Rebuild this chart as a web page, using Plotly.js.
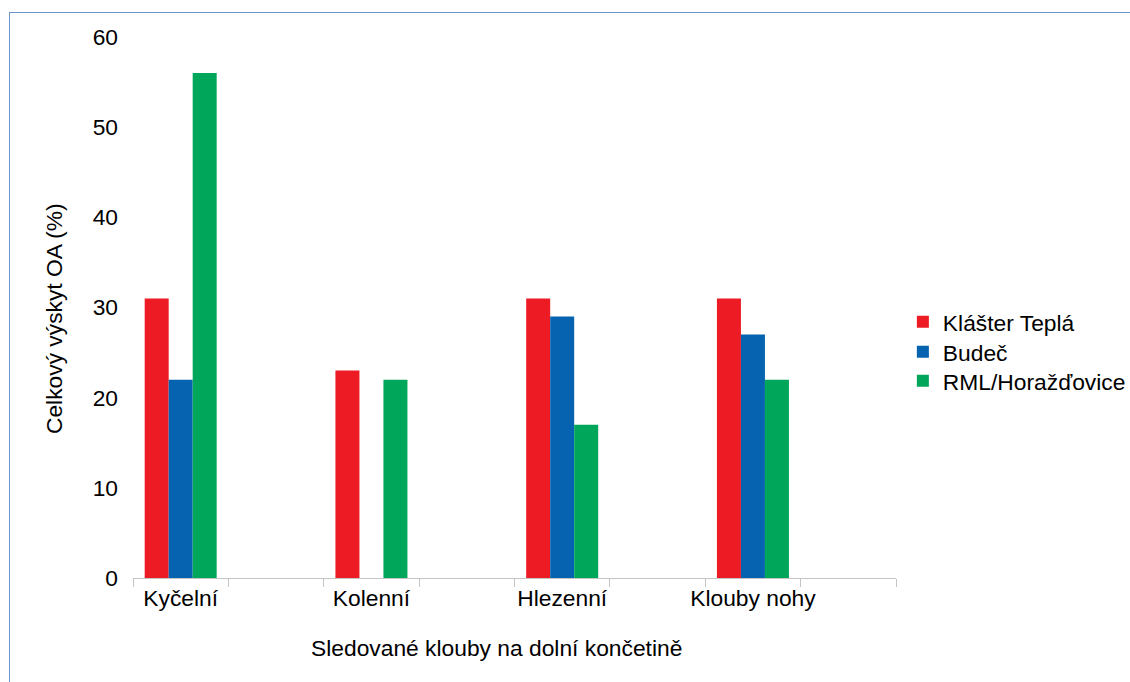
<!DOCTYPE html>
<html>
<head>
<meta charset="utf-8">
<script src="https://cdn.plot.ly/plotly-3.0.1.min.js"></script>
<style>
  html, body { margin: 0; padding: 0; background: #ffffff; }
  #wrap { position: relative; width: 1130px; height: 682px; }
  #chart { position: absolute; left: 0; top: 0; width: 1130px; height: 682px; }
  #frame {
    position: absolute; left: 9px; top: 12px; right: 0; bottom: 0;
    border-top: 1px solid #6f95c8; border-left: 1px solid #6f95c8;
    pointer-events: none;
  }
</style>
</head>
<body>
<div id="wrap">
  <div id="chart"></div>
  <div id="frame"></div>
</div>
<script>
// Joint groups on the x axis; the whitespace slots are empty spacer categories
const categories = ['Kyčelní', ' ', 'Kolenní', '  ', 'Hlezenní', '   ', 'Klouby nohy', '    '];

// Overall OA occurrence (%) per site
const klasterTepla   = [31, null, 23, null, 31, null, 31, null];
const budec          = [22, null, 0,  null, 29, null, 27, null];
const rmlHorazdovice = [56, null, 22, null, 17, null, 22, null];

const seriesNames  = ['Klášter Teplá', 'Budeč', 'RML/Horažďovice'];
const seriesColors = ['#ed1c24', '#0563b0', '#00a65a'];

const yTickValues = [0, 10, 20, 30, 40, 50, 60];

const xTitle = 'Sledované klouby na dolní končetině';
const yTitle = 'Celkový výskyt OA (%)';

const FONT = 'Liberation Sans, Arial, sans-serif';
const FS = 22.8;

// one single-entry legend per series so the rows sit closer together
const legendIds = ['legend', 'legend2', 'legend3'];
const legendRowY = [0.5279, 0.4839, 0.4413];

const traces = [klasterTepla, budec, rmlHorazdovice].map((vals, i) => ({
  type: 'bar',
  name: seriesNames[i],
  x: categories,
  y: vals,
  legend: legendIds[i],
  marker: { color: seriesColors[i], line: { width: 0 } },
  hoverinfo: 'x+y+name'
}));

const legendBox = (y) => ({
  xref: 'container', yref: 'container',
  x: 0.799, y: y,
  xanchor: 'left', yanchor: 'middle',
  font: { family: FONT, size: FS, color: '#000000' },
  bgcolor: 'rgba(0,0,0,0)',
  borderwidth: 0,
  itemclick: false, itemdoubleclick: false
});

const layout = {
  width: 1130,
  height: 682,
  margin: { l: 133, r: 234, t: 37, b: 104 },
  paper_bgcolor: '#ffffff',
  plot_bgcolor: '#ffffff',
  font: { family: FONT, size: FS, color: '#000000' },
  barmode: 'group',
  bargap: 0.245,
  bargroupgap: 0,
  showlegend: true,
  legend: legendBox(legendRowY[0]),
  legend2: legendBox(legendRowY[1]),
  legend3: legendBox(legendRowY[2]),
  xaxis: {
    type: 'category',
    categoryorder: 'array',
    categoryarray: categories,
    tickson: 'boundaries',
    tickangle: 0,
    ticks: 'outside',
    ticklen: 8,
    tickcolor: '#c4c4c4',
    tickwidth: 1,
    showline: true,
    linecolor: '#c4c4c4',
    linewidth: 1,
    showgrid: false,
    zeroline: false,
    tickfont: { family: FONT, size: FS, color: '#000000' },
    automargin: false
  },
  yaxis: {
    range: [0, 60],
    tickvals: yTickValues,
    ticktext: yTickValues.map(String),
    ticks: '',
    showline: false,
    showgrid: false,
    zeroline: false,
    ticklabelstandoff: 14,
    tickfont: { family: FONT, size: FS, color: '#000000' },
    automargin: false
  },
  annotations: [
    {
      text: xTitle, showarrow: false,
      xref: 'paper', yref: 'paper',
      x: 0.4764, y: -0.1294,
      xanchor: 'center', yanchor: 'middle',
      font: { family: FONT, size: FS, color: '#000000' }
    },
    {
      text: yTitle, showarrow: false, textangle: -90,
      xref: 'paper', yref: 'paper',
      x: -0.1035, y: 0.4787,
      xanchor: 'center', yanchor: 'middle',
      font: { family: FONT, size: FS, color: '#000000' }
    }
  ]
};

Plotly.newPlot('chart', traces, layout, { displayModeBar: false, staticPlot: true });
</script>
</body>
</html>
